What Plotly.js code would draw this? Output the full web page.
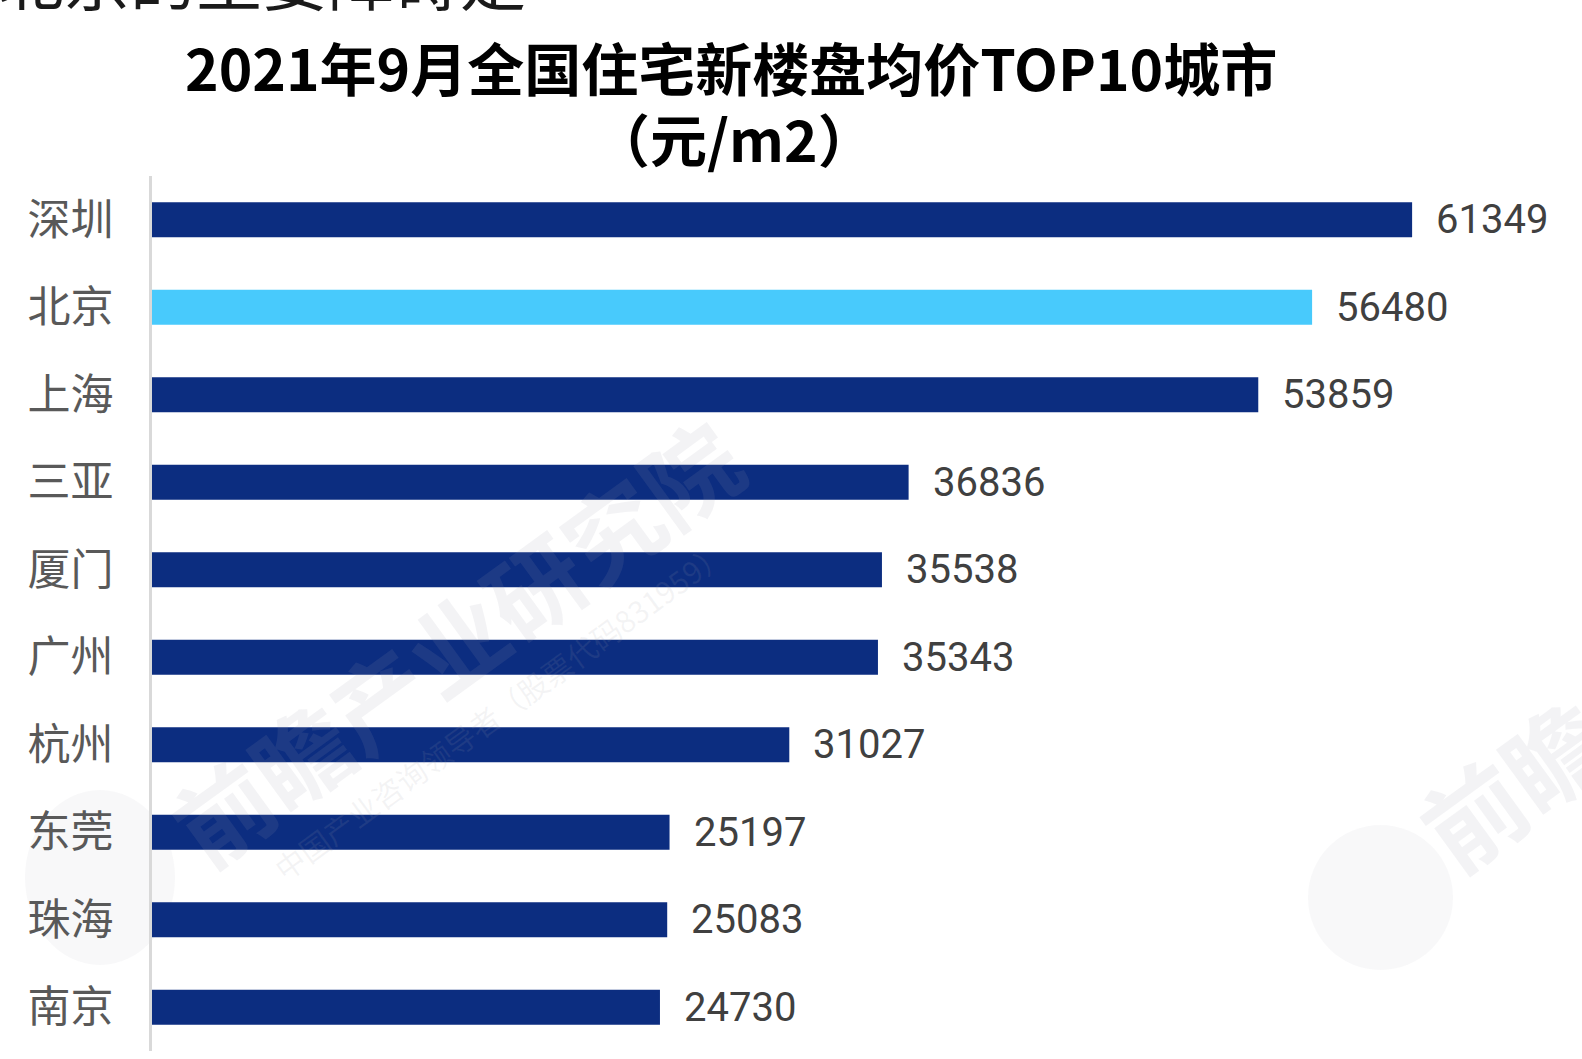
<!DOCTYPE html>
<html>
<head>
<meta charset="utf-8">
<script src="https://cdn.plot.ly/plotly-3.0.1.min.js"></script>
<style>
html,body{margin:0;padding:0;background:#fff;}
#chart{width:1582px;height:1059px;}
</style>
</head>
<body>
<div id="chart"></div>
<script>
const cities = ["深圳","北京","上海","三亚","厦门","广州","杭州","东莞","珠海","南京"];
const prices = [61349,56480,53859,36836,35538,35343,31027,25197,25083,24730];
const highlightCity = "北京";
const titleLine1 = "2021年9月全国住宅新楼盘均价TOP10城市";
const titleLine2 = "（元/m2）";
const cutText = "北京的主要障碍是";
const watermark1 = "前瞻产业研究院";
const watermark2 = "中国产业咨询领导者（股票代码831959）";
const watermark3 = "前瞻";

const DARK = "#0c2d80";
const LIGHT = "#48cafc";
const colors = cities.map(c => c === highlightCity ? LIGHT : DARK);

// plot-area geometry (pixels) used to convert pixel placements to paper coords
const W = 1582, H = 1059, ML = 152, MR = 0, MT = 176, MB = 8;
const PW = W - ML - MR, PH = H - MT - MB;
const px = v => (v - ML) / PW;
const py = v => (H - MB - v) / PH;

const trace = {
  type: "bar",
  orientation: "h",
  x: prices,
  y: cities,
  marker: {color: colors, line: {width: 0}},
  width: 0.4,
  hoverinfo: "x+y"
};

const valueAnnotations = prices.map((v, i) => ({
  x: v, y: cities[i], xref: "x", yref: "y",
  text: String(v), showarrow: false,
  xanchor: "left", yanchor: "middle", xshift: 22,
  font: {family: "Roboto, 'Noto Sans CJK SC', sans-serif", size: 40, color: "#404040"}
}));

const wm = "rgba(160,160,170,0.12)";
const extraAnnotations = [
  {
    xref: "paper", yref: "paper", x: px(731), y: py(66), xanchor: "center", yanchor: "middle",
    text: titleLine1, showarrow: false,
    font: {family: "'Noto Sans CJK SC', sans-serif", size: 57, color: "#000000", weight: 700}
  },
  {
    xref: "paper", yref: "paper", x: px(734), y: py(137), xanchor: "center", yanchor: "middle",
    text: titleLine2, showarrow: false,
    font: {family: "'Noto Sans CJK SC', sans-serif", size: 57, color: "#000000", weight: 700}
  },
  {
    xref: "paper", yref: "paper", x: px(-4), y: py(-24), xanchor: "left", yanchor: "middle",
    text: cutText, showarrow: false,
    font: {family: "'Noto Sans CJK SC', sans-serif", size: 66, color: "#1a1a1a"}
  },
  {
    xref: "paper", yref: "paper", x: px(455), y: py(640), xanchor: "center", yanchor: "middle",
    text: watermark1, showarrow: false, textangle: -36,
    font: {family: "'Noto Sans CJK SC', sans-serif", size: 96, color: wm, weight: 700}
  },
  {
    xref: "paper", yref: "paper", x: px(500), y: py(710), xanchor: "center", yanchor: "middle",
    text: watermark2, showarrow: false, textangle: -36,
    font: {family: "'Noto Sans CJK SC', sans-serif", size: 30, color: wm}
  },
  {
    xref: "paper", yref: "paper", x: px(1512), y: py(782), xanchor: "center", yanchor: "middle",
    text: watermark3, showarrow: false, textangle: -36,
    font: {family: "'Noto Sans CJK SC', sans-serif", size: 100, color: wm, weight: 700}
  }
];

const layout = {
  width: W, height: H,
  margin: {l: ML, r: MR, t: MT, b: MB},
  paper_bgcolor: "#ffffff",
  plot_bgcolor: "#ffffff",
  showlegend: false,
  bargap: 0.6,
  xaxis: {
    range: [0, 69620],
    showgrid: false, zeroline: false, showticklabels: false, ticks: "",
    showline: false, fixedrange: true
  },
  yaxis: {
    type: "category",
    range: [9.5, -0.5],
    showgrid: false, zeroline: false,
    showline: true, linecolor: "#d9d9d9", linewidth: 3,
    ticks: "", ticklabelstandoff: 27,
    tickfont: {family: "'Noto Sans CJK SC', sans-serif", size: 43, color: "#595959"},
    fixedrange: true
  },
  shapes: [
    {type: "circle", xref: "paper", yref: "paper",
     x0: px(1308), x1: px(1453), y0: py(970), y1: py(825),
     fillcolor: "rgba(200,200,210,0.13)", line: {width: 0}, layer: "below"},
    {type: "circle", xref: "paper", yref: "paper",
     x0: px(25), x1: px(175), y0: py(965), y1: py(790),
     fillcolor: "rgba(200,200,210,0.13)", line: {width: 0}, layer: "below"}
  ],
  annotations: valueAnnotations.concat(extraAnnotations)
};

Plotly.newPlot("chart", [trace], layout, {displayModeBar: false, staticPlot: true});
</script>
</body>
</html>
